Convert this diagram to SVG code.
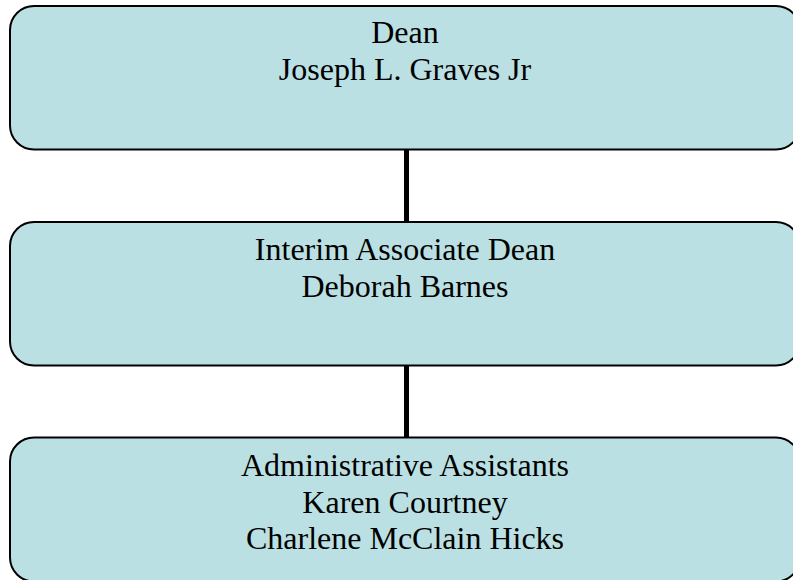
<svg xmlns="http://www.w3.org/2000/svg" width="793" height="580" viewBox="0 0 793 580">
<style>
.box{fill:#BBE0E3;stroke:#000;stroke-width:2}
.t{font-family:"Liberation Serif","Times New Roman",serif;font-size:32px;fill:#000;text-anchor:middle}
.c{stroke:#000;stroke-width:5;fill:none}
</style>
<rect width="793" height="580" fill="#fff"/>
<g id="connectors">
<line class="c" x1="406.5" y1="149" x2="406.5" y2="222"/>
<line class="c" x1="406.5" y1="365" x2="406.5" y2="438"/>
</g>
<g id="dean">
<rect class="box" x="10" y="6" width="790" height="143.5" rx="24" ry="24"/>
<text class="t" x="405" y="43">Dean</text>
<text class="t" x="405" y="79.5">Joseph L. Graves Jr</text>
</g>
<g id="associate-dean">
<rect class="box" x="10" y="222" width="790" height="143.5" rx="24" ry="24"/>
<text class="t" x="405" y="260">Interim Associate Dean</text>
<text class="t" x="405" y="296.5">Deborah Barnes</text>
</g>
<g id="admin-assistants">
<rect class="box" x="10" y="437.5" width="790" height="144" rx="24" ry="24"/>
<text class="t" x="405" y="476">Administrative Assistants</text>
<text class="t" x="405" y="512.5">Karen Courtney</text>
<text class="t" x="405" y="549">Charlene McClain Hicks</text>
</g>
</svg>
